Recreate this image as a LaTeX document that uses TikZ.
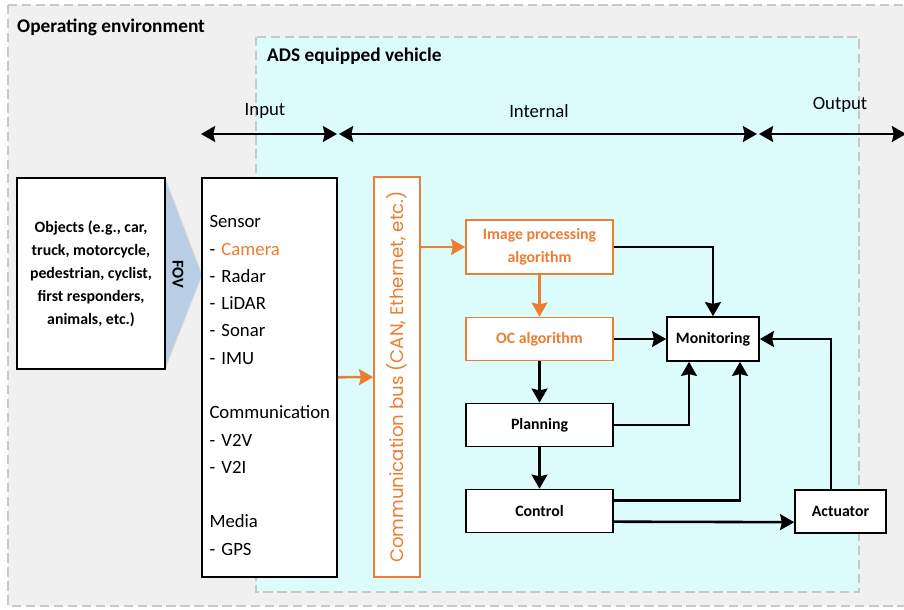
\documentclass[tikz,border=0pt]{standalone}
\usepackage{fontspec}
\setmainfont{Carlito}
\newfontfamily\busfont{Poppins}
\usetikzlibrary{arrows.meta, positioning}
\definecolor{envgray}{RGB}{240,240,240}
\definecolor{vehcyan}{RGB}{220,252,252}
\definecolor{dashgray}{RGB}{200,200,200}
\definecolor{ocorange}{RGB}{237,125,49}
\definecolor{fovblue}{RGB}{185,205,229}

\begin{document}
\begin{tikzpicture}[x=0.03cm, y=-0.03cm, >={Stealth[length=12pt,width=13.5pt,inset=1.5pt]},
    blk/.style={draw, line width=1.4pt, fill=white, align=center,
        font=\fontsize{13.5}{19.6}\selectfont\bfseries,
        minimum width=4.41cm, minimum height=1.29cm, inner sep=2pt},
    oblk/.style={blk, draw=ocorange, text=ocorange},
    link/.style={->, line width=2.2pt},
    olink/.style={->, line width=2.2pt, ocorange},
    span/.style={<->, line width=2.2pt},
    zone/.style={draw=dashgray, line width=1.3pt, dash pattern=on 8pt off 4pt},
    hdr/.style={font=\fontsize{16.5}{19}\selectfont\bfseries, anchor=west, inner sep=0pt},
    lbl/.style={font=\fontsize{16}{19}\selectfont},
    node distance=2.58cm]

\useasboundingbox (0,0) rectangle (904,609);
\clip (0,0) rectangle (904,609);
\fill[white] (0,0) rectangle (904,609);

% operating environment and vehicle
\draw[zone, fill=envgray] (8,5) rectangle (930,606);
\node[hdr] (env) at (17,27) {Operating environment};
\draw[zone, fill=vehcyan] (256,37) rectangle (859,592);
\node[hdr] (ads) at (267,56) {ADS equipped vehicle};

% input / internal / output
\coordinate (inL) at (201,134);
\coordinate (inR) at (337,134);
\coordinate (intL) at (339,134);
\coordinate (intR) at (757,134);
\coordinate (outL) at (759,134);
\coordinate (outR) at (906,134);
\draw[span] (inL) -- (inR);
\draw[span] (intL) -- (intR);
\draw[span] (outL) -- (outR);
\node[lbl] (inlbl) at (265,111) {Input};
\node[lbl] (intlbl) at (539,111) {Internal};
\node[lbl] (outlbl) at (840,105) {Output};

% objects and field of view
\filldraw[fill=fovblue, draw=gray!30, line width=0.8pt] (165,178) -- (202,275) -- (165,369) -- cycle;
\node[blk, minimum width=4.44cm, minimum height=5.73cm] (obj) at (91,273.5)
    {Objects (e.g., car,\\truck, motorcycle,\\pedestrian, cyclist,\\first responders,\\animals, etc.)};
\node[rotate=-90, font=\fontsize{14}{16}\selectfont\bfseries] (fov) at (178,274) {FOV};

% sensors
\node[blk, font=\fontsize{16}{23.3}\selectfont, align=left, text width=3.6cm,
    minimum width=4.05cm, minimum height=11.97cm] (sen) at (269.5,377.5)
    {\rule{0pt}{24pt}Sensor\\- {\color{ocorange}Camera}\\- Radar\\- LiDAR\\- Sonar\\- IMU\\[23.3pt]
     Communication\\- V2V\\- V2I\\[23.3pt]
     Media\\- GPS};

% bus
\node[draw=ocorange, line width=1.4pt, fill=white, minimum width=1.38cm, minimum height=12cm] (bus) at (397,377) {};
\node[rotate=90, text=ocorange, font=\busfont\fontsize{15.5}{17}\selectfont] (bustxt) at (bus) {Communication bus (CAN, Ethernet, etc.)};

% processing chain
\node[oblk, minimum height=1.62cm] (img) at (539.5,247) {Image processing\\algorithm};
\node[oblk] (oc) at (539.5,339) {OC algorithm};
\node[blk] (plan) [below of = oc] {Planning};
\node[blk] (ctrl) [below of = plan] {Control};
\node[blk, minimum width=2.76cm, minimum height=1.32cm] (mon) at (713,339) {Monitoring};
\node[blk, minimum width=2.73cm] (act) at (840.5,511.5) {Actuator};

\path[olink] (sen) edge (bus);
\draw[olink] (img -| bus.east) -- (img);
\draw[olink] (img) -- (oc);
\draw[link] (img) -| (mon);
\draw[link] (oc) -- (mon);
\path[link] (oc) edge (plan)
            (plan) edge (ctrl);
\draw[link] (plan) -| ([xshift=-0.72cm]mon.south);
\draw[link] ([yshift=0.32cm]ctrl.east) -| ([xshift=0.81cm]mon.south);
\draw[link] ([yshift=-0.32cm]ctrl.east) -- ([yshift=-0.32cm]act.west);
\draw[link] ([xshift=-0.29cm]act.north) |- (mon);
\end{tikzpicture}
\end{document}
